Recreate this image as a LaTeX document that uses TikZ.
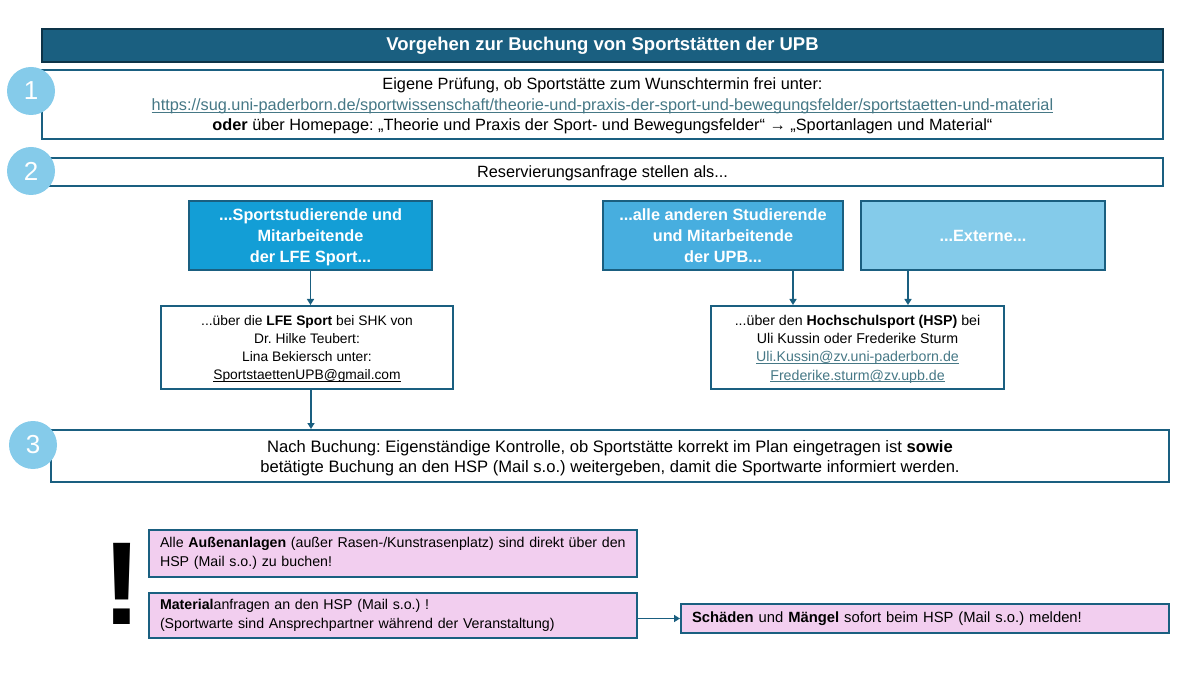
\documentclass[tikz,border=0pt]{standalone}
\usepackage{fontspec}
\setmainfont{Liberation Sans}
\usetikzlibrary{arrows.meta}
\definecolor{titlefill}{HTML}{1A5F80}
\definecolor{titlebord}{HTML}{0D3448}
\definecolor{bord}{HTML}{1A5F80}
\definecolor{circfill}{HTML}{85CBEA}
\definecolor{fillA}{HTML}{139ED6}
\definecolor{fillB}{HTML}{47AEDF}
\definecolor{fillC}{HTML}{84CBEA}
\definecolor{pinkfill}{HTML}{F2CEEF}
\definecolor{linkcol}{HTML}{467886}
\newcommand\fsz[2]{\fontsize{#1}{#2}\selectfont}
\newcommand\ul[1]{\leavevmode\setbox0\hbox{#1}\rlap{\raisebox{-2.2pt}{\rule{\wd0}{0.8pt}}}\box0}
\newcommand\lnk[1]{\textcolor{linkcol}{\ul{#1}}}
\frenchspacing
\begin{document}
\begin{tikzpicture}[x=1pt,y=-1pt,
  box/.style={draw=bord, line width=2pt, fill=white, inner sep=0pt, align=center, text depth=0pt, font=\fsz{16.3}{20}},
  titlebox/.style={draw=titlebord, line width=2pt, fill=titlefill, text=white, inner sep=0pt, font=\fsz{18.5}{20}\bfseries},
  colbox/.style={draw=bord, line width=2pt, text=white, inner sep=0pt, align=center, text depth=0pt, font=\fsz{16.3}{21}\bfseries},
  pinkbox/.style={draw=bord, line width=2pt, fill=pinkfill, inner xsep=11pt, inner ysep=0pt, align=left, font=\fsz{14.2}{19}},
  circ/.style={circle, fill=circfill, minimum size=48pt, inner sep=0pt, text=white, font=\fsz{26}{26}},
  arr/.style={draw=bord, line width=1.6pt, -{Triangle[length=6pt,width=7pt]}}]
\useasboundingbox (0,0) rectangle (1183,684);

\node[titlebox, minimum width=1121pt, minimum height=33pt] (title) at (602.5,45.5) {Vorgehen zur Buchung von Sportstätten der UPB};

\node[box, minimum width=1121pt, minimum height=69pt, font=\fsz{16.3}{20.5}] (b1) at (602.5,104.5)
 {Eigene Prüfung, ob Sportstätte zum Wunschtermin frei unter:\\
  \lnk{https://sug.uni-paderborn.de/sportwissenschaft/theorie-und-praxis-der-sport-und-bewegungsfelder/sportstaetten-und-material}\\
  \textbf{oder} über Homepage: „Theorie und Praxis der Sport- und Bewegungsfelder“ → „Sportanlagen und Material“};

\node[box, minimum width=1121pt, minimum height=28pt] (b2) at (602.5,172) {Reservierungsanfrage stellen als...};

\node[colbox, fill=fillA, minimum width=243pt, minimum height=69pt] (A) at (310.5,235.5) {...Sportstudierende und\\Mitarbeitende\\der LFE Sport...};
\node[colbox, fill=fillB, minimum width=240pt, minimum height=69pt] (B) at (723,235.5) {...alle anderen Studierende\\und Mitarbeitende\\der UPB...};
\node[colbox, fill=fillC, minimum width=244pt, minimum height=69pt] (C) at (983,235.5) {...Externe...};

\node[box, minimum width=292pt, minimum height=83pt, font=\fsz{13.8}{18.3}] (D) at (307,347.5)
 {...über die \textbf{LFE Sport} bei SHK von\\Dr. Hilke Teubert:\\Lina Bekiersch unter:\\\ul{SportstaettenUPB@gmail.com}};
\node[box, minimum width=293pt, minimum height=83pt, font=\fsz{14.2}{18.3}] (E) at (857.5,347.5)
 {...über den \textbf{Hochschulsport (HSP)} bei\\Uli Kussin oder Frederike Sturm\\\lnk{Uli.Kussin@zv.uni-paderborn.de}\\\lnk{Frederike.sturm@zv.upb.de}};

\node[box, minimum width=1118pt, minimum height=52pt, font=\fsz{16.6}{20}] (b3) at (610,456)
 {Nach Buchung: Eigenständige Kontrolle, ob Sportstätte korrekt im Plan eingetragen ist \textbf{sowie}\\
  betätigte Buchung an den HSP (Mail s.o.) weitergeben, damit die Sportwarte informiert werden.};

\node[circ] (c1) at (31,91) {1};
\node[circ] (c2) at (31,171) {2};
\node[circ] (c3) at (33,445) {3};

\draw[arr] (A.south) -- (A.south |- D.north);
\draw[arr] ([xshift=70pt]B.south) -- ([xshift=70pt]B.south |- E.north);
\draw[arr] ([xshift=-75pt]C.south) -- ([xshift=-75pt]C.south |- E.north);
\draw[arr] ([xshift=4pt]D.south) -- ([xshift=4pt]D.south |- b3.north);

\node[font=\fsz{118}{118}\bfseries] (ex) at (122,584) {!};

\node[pinkbox, text width=466pt, minimum height=47pt] (p1) at (393,553.5)
 {\mbox{Alle \textbf{Außenanlagen} (außer Rasen-/Kunstrasenplatz) sind direkt über den}\\\mbox{HSP (Mail s.o.) zu buchen!}};
\node[pinkbox, text width=466pt, minimum height=45pt] (p2) at (393,615.5)
 {\mbox{\textbf{Material}anfragen an den HSP (Mail s.o.) !}\\\mbox{(Sportwarte sind Ansprechpartner während der Veranstaltung)}};
\node[pinkbox, text width=466pt, minimum height=29pt, font=\fsz{14.8}{19}] (p3) at (925,618.5)
 {\mbox{\textbf{Schäden} und \textbf{Mängel} sofort beim HSP (Mail s.o.) melden!}};

\draw[arr] (p3.west -| p2.east) -- (p3.west);
\end{tikzpicture}
\end{document}
